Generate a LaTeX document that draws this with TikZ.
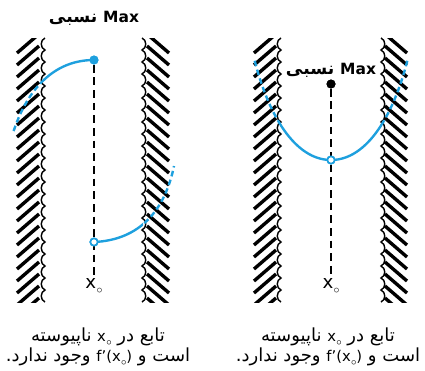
\documentclass[tikz,border=0pt]{standalone}
\usepackage{fontspec}
\setmainfont{DejaVu Sans}
\newfontfamily\fafont[Script=Arabic, Scale=1.22]{DejaVu Sans}
\TeXXeTstate=1
\usetikzlibrary{positioning}
\definecolor{curveblue}{RGB}{30,160,222}
\newcommand{\xo}{{\rmfamily x\kern0.2pt\raisebox{-0.45ex}{\scalebox{0.7}{$\circ$}}}}

\begin{document}
\begin{tikzpicture}[x=0.025cm, y=-0.025cm,
    hatch/.style={line width=2.4pt},
    wavy/.style={line width=1pt},
    curve/.style={curveblue, line width=1.7pt},
    curvedash/.style={curve, dash pattern=on 4pt off 2.5pt},
    guide/.style={line width=1.4pt, dash pattern=on 5.5pt off 3.5pt},
    fulldot/.style={circle, fill=#1, inner sep=0pt, minimum size=6.4pt},
    opendot/.style={circle, draw=curveblue, fill=white, line width=1.2pt, inner sep=0pt, minimum size=5.2pt},
    maxlab/.style={font=\fafont\bfseries\fontsize{10}{12}\selectfont},
    xlab/.style={font=\fontsize{13}{15}\selectfont, inner sep=1pt},
    caption/.style={align=center, font=\fafont\fontsize{10.5}{14.5}\selectfont}]

    \useasboundingbox (0,0) rectangle (425,370);

    % left picture: walls
    \begin{scope}
        \clip (14,38) rectangle (46,302);
        \foreach \y in {53,65,...,320} \draw[hatch] (17,\y) -- (39,\y-19);
    \end{scope}
    \draw[wavy] (45,38) \foreach \y in {38,50,...,290} { .. controls (40,\y+2) and (40,\y+10) .. (45,\y+12) };
    \begin{scope}
        \clip (140,38) rectangle (172,302);
        \foreach \y in {53,65,...,320} \draw[hatch] (147,\y-19) -- (169,\y);
    \end{scope}
    \draw[wavy] (142,38) \foreach \y in {38,50,...,290} { .. controls (147,\y+2) and (147,\y+10) .. (142,\y+12) };

    % left picture: points and labels
    \node[fulldot=curveblue] (maxL) at (94,60) {};
    \node[opendot] (jumpL) at (94,242) {};
    \node[xlab] (xL) at (94,286) {\xo};
    \node[maxlab] (maxlabL) at (94,18) {\beginR\beginL{\rmfamily\bfseries\fontsize{11}{12}\selectfont Max}\endL{} نسبی\endR};

    % left picture: the two branches
    \begin{scope}
        \clip (43,0) rectangle (143,370);
        \draw[curve] (maxL.center) .. controls (50,60) and (25,95) .. (13,133);
        \draw[curve] (jumpL.center) .. controls (140,240) and (165,210) .. (174,166);
    \end{scope}
    \begin{scope}
        \clip (0,0) rectangle (43,370) (143,0) rectangle (212,370);
        \draw[curvedash] (maxL.center) .. controls (50,60) and (25,95) .. (13,133);
        \draw[curvedash] (jumpL.center) .. controls (140,240) and (165,210) .. (174,166);
    \end{scope}
    \draw[guide] (maxL) -- (xL);
    \node[fulldot=curveblue] at (maxL) {};
    \node[opendot] at (jumpL) {};

    % right picture: walls
    \begin{scope}
        \clip (250,38) rectangle (282,302);
        \foreach \y in {53,65,...,320} \draw[hatch] (254,\y) -- (276,\y-19);
    \end{scope}
    \draw[wavy] (281,38) \foreach \y in {38,50,...,290} { .. controls (276,\y+2) and (276,\y+10) .. (281,\y+12) };
    \begin{scope}
        \clip (379,38) rectangle (411,302);
        \foreach \y in {53,65,...,320} \draw[hatch] (385,\y-19) -- (407,\y);
    \end{scope}
    \draw[wavy] (381,38) \foreach \y in {38,50,...,290} { .. controls (386,\y+2) and (386,\y+10) .. (381,\y+12) };

    % right picture: points and labels
    \node[fulldot=black] (maxR) at (331,84) {};
    \node[opendot] (holeR) at (331,160) {};
    \node[xlab] (xR) at (331,286) {\xo};
    \node[maxlab] (maxlabR) at (331,70) {\beginR\beginL{\rmfamily\bfseries\fontsize{11}{12}\selectfont Max}\endL{} نسبی\endR};

    % right picture: the curve
    \begin{scope}
        \clip (280,0) rectangle (382,370);
        \draw[curve] (holeR.center) .. controls (295,160) and (268,115) .. (254,58);
        \draw[curve] (holeR.center) .. controls (367,160) and (394,115) .. (408,58);
    \end{scope}
    \begin{scope}
        \clip (212,0) rectangle (280,370) (382,0) rectangle (425,370);
        \draw[curvedash] (holeR.center) .. controls (295,160) and (268,115) .. (254,58);
        \draw[curvedash] (holeR.center) .. controls (367,160) and (394,115) .. (408,58);
    \end{scope}
    \draw[guide] (maxR) -- (xR);
    \node[fulldot=black] at (maxR) {};
    \node[opendot] at (holeR) {};

    % captions
    \node[caption] (capL) at (98,347) {\beginR تابع در \beginL\xo\endL{} ناپیوسته\endR\\
        \beginR است و \beginL{\rmfamily f’(\xo)}\endL{} وجود ندارد.\endR};
    \node[caption] (capR) at (328,347) {\beginR تابع در \beginL\xo\endL{} ناپیوسته\endR\\
        \beginR است و \beginL{\rmfamily f’(\xo)}\endL{} وجود ندارد.\endR};

\end{tikzpicture}
\end{document}
